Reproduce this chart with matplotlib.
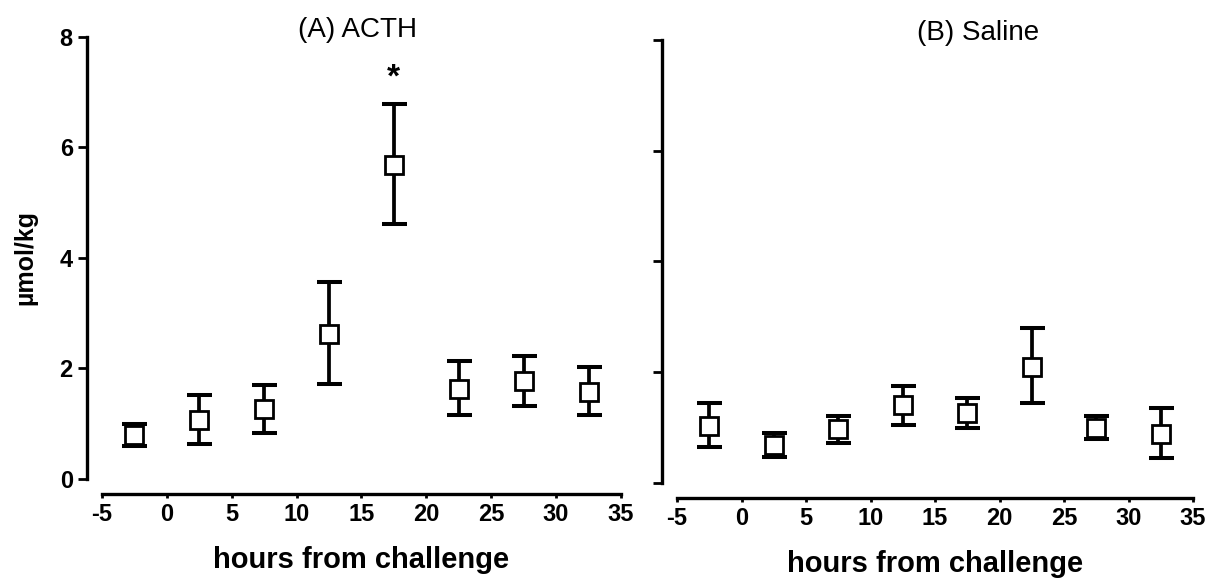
import matplotlib
matplotlib.use('Agg')
import matplotlib.pyplot as plt

plt.rcParams['font.family'] = ['Liberation Sans', 'DejaVu Sans']
plt.rcParams['axes.unicode_minus'] = False

# hours from challenge (bin centres)
hours = [-2.5, 2.5, 7.5, 12.5, 17.5, 22.5, 27.5, 32.5]

# (A) ACTH : mean and error bar ends
acth_mean = [0.80, 1.07, 1.27, 2.63, 5.69, 1.63, 1.77, 1.58]
acth_upper = [1.00, 1.52, 1.71, 3.57, 6.78, 2.13, 2.22, 2.02]
acth_lower = [0.60, 0.63, 0.83, 1.72, 4.62, 1.15, 1.33, 1.15]

# (B) Saline
sal_mean = [1.02, 0.68, 0.97, 1.40, 1.27, 2.09, 1.00, 0.89]
sal_upper = [1.44, 0.91, 1.21, 1.76, 1.54, 2.79, 1.21, 1.35]
sal_lower = [0.65, 0.47, 0.73, 1.04, 1.00, 1.45, 0.80, 0.45]

x_ticks = [-5, 0, 5, 10, 15, 20, 25, 30, 35]
y_ticks = [0, 2, 4, 6, 8]

fig = plt.figure(figsize=(12.14, 5.78), dpi=100)
ax1 = fig.add_axes([0.0840, 0.1713, 0.4275, 0.7647])
ax2 = fig.add_axes([0.5577, 0.1644, 0.4250, 0.7664])


def draw_panel(ax, mean, upper, lower, title, title_x, show_ylabels):
    yerr = [[m - l for m, l in zip(mean, lower)],
            [u - m for m, u in zip(mean, upper)]]
    ax.errorbar(hours, mean, yerr=yerr, fmt='none', ecolor='black',
                elinewidth=2.7, capsize=9, capthick=2.9, zorder=2)
    ax.plot(hours, mean, linestyle='none', marker='s', markersize=13,
            markerfacecolor='white', markeredgecolor='black',
            markeredgewidth=2.0, zorder=3)

    ax.set_xlim(-5, 35)
    ax.set_ylim(0, 8)
    ax.set_xticks(x_ticks)
    ax.set_yticks(y_ticks)

    for s in ['top', 'right']:
        ax.spines[s].set_visible(False)
    ax.spines['left'].set_position(('outward', 10.5))
    ax.spines['bottom'].set_position(('outward', 10.5))
    ax.spines['left'].set_linewidth(2.4)
    ax.spines['bottom'].set_linewidth(2.4)

    ax.tick_params(axis='y', direction='out', length=6.5, width=2.0, pad=4)
    ax.tick_params(axis='x', direction='out', length=3, width=2.0, pad=4)
    for lab in ax.get_xticklabels():
        lab.set_fontsize(17)
        lab.set_fontweight('bold')
    if show_ylabels:
        for lab in ax.get_yticklabels():
            lab.set_fontsize(17)
            lab.set_fontweight('bold')
    else:
        ax.set_yticklabels([])

    t = ax.text(title_x, 8.12, title, fontsize=20, ha='center', va='center')
    t.set_clip_on(False)
    ax.set_xlabel('hours from challenge', fontsize=21, fontweight='bold')
    ax.xaxis.set_label_coords(0.5, -0.183)
    ax.xaxis.label.set_va('center')


draw_panel(ax1, acth_mean, acth_upper, acth_lower, '(A) ACTH', 14.7, True)
draw_panel(ax2, sal_mean, sal_upper, sal_lower, '(B) Saline', 18.3, False)

# significance marker
ax1.text(17.5, 7.25, '*', fontsize=24, fontweight='bold', ha='center', va='center')

ax1.set_ylabel('\u00b5mol/kg', fontsize=18, fontweight='bold')
ax1.yaxis.set_label_coords(-0.148, 0.5)
ax1.yaxis.label.set_va('center')

plt.savefig('out.png', dpi=100)
